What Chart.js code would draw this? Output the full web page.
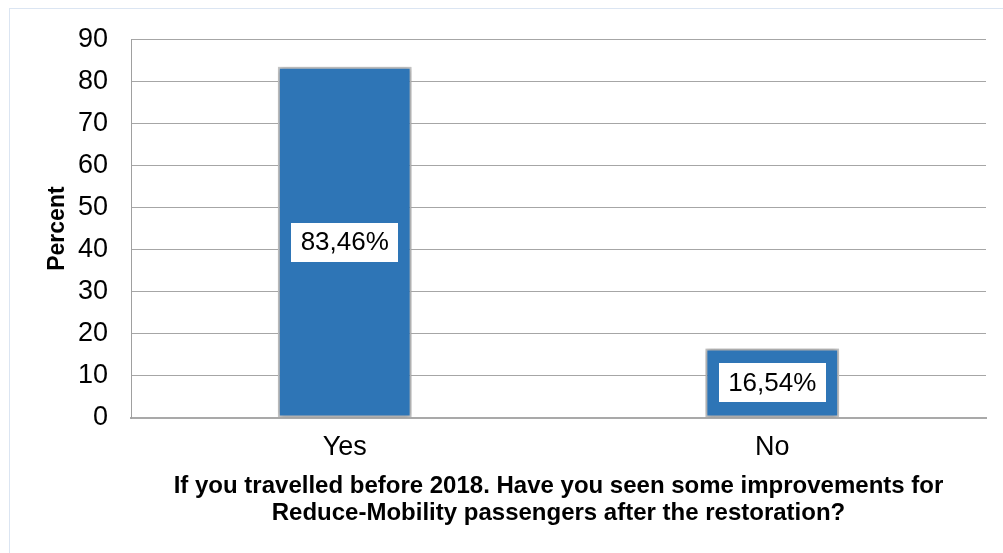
<!DOCTYPE html>
<html>
<head>
<meta charset="utf-8">
<script src="https://cdn.jsdelivr.net/npm/chart.js@4"></script>
<style>
  html, body { margin: 0; padding: 0; background: #ffffff; }
  #wrap { position: relative; width: 1003px; height: 553px; overflow: hidden; }
  #frame { position: absolute; left: 9px; top: 8px; width: 1100px; height: 600px;
           border-left: 1px solid #dbe5f2; border-top: 1px solid #dbe5f2; pointer-events: none; }
  canvas { position: absolute; left: 0; top: 0; }
</style>
</head>
<body>
<div id="wrap">
  <canvas id="chart" width="1003" height="553"></canvas>
  <div id="frame"></div>
</div>
<script>
// Survey answers (percent of respondents)
const categories = ['Yes', 'No'];
const percentValues = [83.46, 16.54];
const yTickValues = [0, 10, 20, 30, 40, 50, 60, 70, 80, 90];
const yAxisTitle = 'Percent';
const xAxisTitle = [
  'If you travelled before 2018. Have you seen some improvements for',
  'Reduce-Mobility passengers after the restoration?'
];

const FONT = '"Liberation Sans", Arial, sans-serif';

// Soft drop shadow behind the bars
const barShadow = {
  id: 'barShadow',
  beforeDatasetDraw(chart) {
    const ctx = chart.ctx;
    ctx.save();
    ctx.shadowColor = 'rgba(0,0,0,0.35)';
    ctx.shadowBlur = 5;
    ctx.shadowOffsetX = 0;
    ctx.shadowOffsetY = 0;
  },
  afterDatasetDraw(chart) {
    chart.ctx.restore();
  }
};

// White boxed value label in the middle of each bar
const boxedLabels = {
  id: 'boxedLabels',
  afterDatasetsDraw(chart) {
    const ctx = chart.ctx;
    const meta = chart.getDatasetMeta(0);
    const data = chart.data.datasets[0].data;
    ctx.save();
    ctx.font = '26px ' + FONT;
    ctx.textAlign = 'center';
    ctx.textBaseline = 'middle';
    meta.data.forEach((bar, i) => {
      const text = data[i].toFixed(2).replace('.', ',') + '%';
      const cy = (bar.y + bar.base) / 2;
      const w = 107, h = 39;
      ctx.fillStyle = '#ffffff';
      ctx.fillRect(Math.round(bar.x - w / 2), Math.round(cy - h / 2), w, h);
      ctx.fillStyle = '#000000';
      ctx.fillText(text, bar.x, cy + 1);
    });
    ctx.restore();
  }
};

new Chart(document.getElementById('chart'), {
  type: 'bar',
  data: {
    labels: categories,
    datasets: [{
      data: percentValues,
      backgroundColor: '#2e75b6',
      borderColor: '#c8c8c8',
      borderWidth: 2,
      borderSkipped: false,
      categoryPercentage: 1.0,
      barPercentage: 0.313
    }]
  },
  options: {
    responsive: false,
    animation: false,
    devicePixelRatio: 1,
    layout: { padding: { left: 0, top: 38, right: 17, bottom: 0 } },
    plugins: {
      legend: { display: false },
      tooltip: { enabled: false }
    },
    scales: {
      x: {
        grid: { display: false, drawTicks: false },
        border: { display: true, color: '#a9a9a9', width: 2 },
        ticks: {
          color: '#000000',
          padding: 13,
          font: { family: FONT, size: 27, lineHeight: 1.2 }
        },
        title: {
          display: true,
          text: xAxisTitle,
          color: '#000000',
          padding: { top: 0, bottom: 26 },
          font: { family: FONT, size: 24, weight: 'bold', lineHeight: 27 / 24 }
        },
        afterFit(scale) { scale.height = 135; }
      },
      y: {
        min: 0,
        max: 90,
        afterBuildTicks(scale) { scale.ticks = yTickValues.map(v => ({ value: v })); },
        grid: { color: '#a6a6a6', lineWidth: 1, drawTicks: false },
        border: { display: true, color: '#a0a0a0', width: 1 },
        ticks: {
          color: '#000000',
          padding: 23,
          font: { family: FONT, size: 27, lineHeight: 1.2 }
        },
        title: {
          display: true,
          text: yAxisTitle,
          color: '#000000',
          padding: { top: 44, bottom: 0 },
          font: { family: FONT, size: 23, weight: 'bold', lineHeight: 1.2 }
        },
        afterFit(scale) { scale.width = 131; }
      }
    }
  },
  plugins: [barShadow, boxedLabels]
});
</script>
</body>
</html>
